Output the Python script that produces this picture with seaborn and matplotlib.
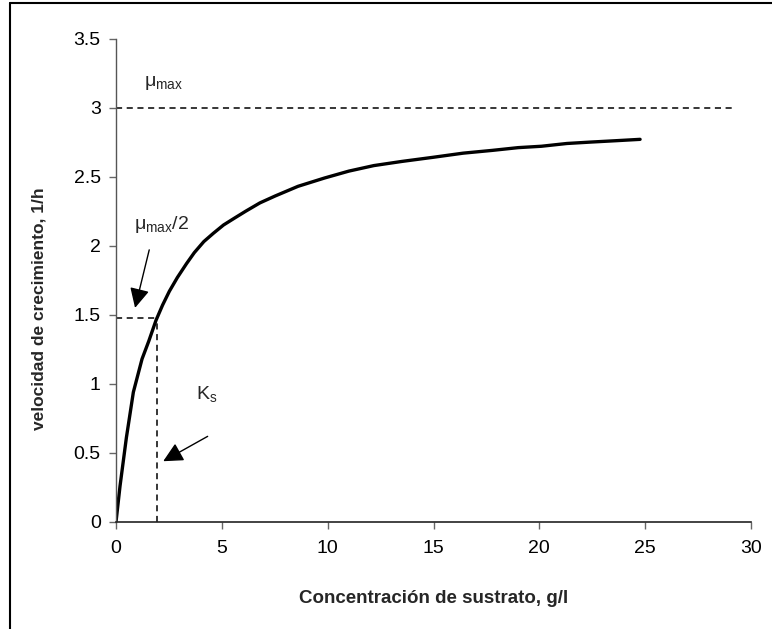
import matplotlib
matplotlib.use("Agg")
import matplotlib.pyplot as plt
from matplotlib.lines import Line2D
import seaborn as sns
import pandas as pd

# Data
substrate = [0, 0.19, 0.49, 0.82, 1.23, 1.55, 1.89, 2.2, 2.52, 2.9, 3.33, 3.7,
             4.15, 4.6, 5.08, 5.6, 6.13, 6.8, 7.52, 8.6, 9.85, 11.0, 12.18,
             13.5, 14.98, 16.4, 17.77, 19.0, 20.1, 21.3, 22.4, 23.6, 24.76]
growth = [0, 0.26, 0.61, 0.94, 1.18, 1.31, 1.46, 1.57, 1.67, 1.77, 1.87, 1.95,
          2.03, 2.09, 2.15, 2.2, 2.25, 2.31, 2.36, 2.43, 2.49, 2.54, 2.58,
          2.61, 2.64, 2.67, 2.69, 2.71, 2.72, 2.74, 2.75, 2.76, 2.77]
mu_max = 3.0
mu_half = 1.48
ks = 1.92
mu_max_line_end = 29.2
x_ticks = [0, 5, 10, 15, 20, 25, 30]
y_ticks = [0, 0.5, 1, 1.5, 2, 2.5, 3, 3.5]
y_tick_labels = ["0", "0.5", "1", "1.5", "2", "2.5", "3", "3.5"]

sns.set_theme(style="white")
plt.rcParams["font.family"] = ["Liberation Sans", "DejaVu Sans"]
plt.rcParams["mathtext.fontset"] = "custom"
plt.rcParams["mathtext.rm"] = "Liberation Sans"
plt.rcParams["mathtext.it"] = "Liberation Sans:italic"
plt.rcParams["mathtext.bf"] = "Liberation Sans:bold"

fig = plt.figure(figsize=(7.72, 6.29), dpi=100)
fig.patch.set_facecolor("white")
ax = fig.add_axes([116 / 772, 1 - 522 / 629, (751 - 116) / 772, (522 - 38.5) / 629])

df = pd.DataFrame({"S": substrate, "mu": growth})
sns.lineplot(data=df, x="S", y="mu", ax=ax, color="black", linewidth=2.4,
             estimator=None, sort=False)

dash = (0, (4, 3))
ax.plot([0, mu_max_line_end], [mu_max, mu_max], color="black", lw=1.1, linestyle=dash)
ax.plot([0, ks], [mu_half, mu_half], color="black", lw=1.1, linestyle=dash)
ax.plot([ks, ks], [0, mu_half], color="black", lw=1.1, linestyle=dash)

ax.set_xlim(0, 30)
ax.set_ylim(0, 3.5)
ax.set_xticks(x_ticks)
ax.set_xticklabels([str(t) for t in x_ticks])
ax.set_yticks(y_ticks)
ax.set_yticklabels(y_tick_labels)

for s in ["top", "right"]:
    ax.spines[s].set_visible(False)
ax.spines["left"].set_color("#555555")
ax.spines["bottom"].set_color("#222222")
ax.spines["left"].set_linewidth(1.0)
ax.spines["bottom"].set_linewidth(1.2)
ax.tick_params(axis="both", which="major", direction="out", length=5, width=1.0,
               color="#666666", labelsize=14, labelcolor="black",
               bottom=True, left=True)
ax.tick_params(axis="x", pad=8)
ax.tick_params(axis="y", pad=6)

ax.set_xlabel("Concentración de sustrato, g/l", fontsize=13.5, fontweight="bold")
ax.set_ylabel("velocidad de crecimiento, 1/h", fontsize=12.5, fontweight="bold")
ax.xaxis.set_label_coords(0.5, -0.141)
ax.yaxis.set_label_coords(-0.109, 0.442)

ax.text(1.3, 3.18, r"$\mathrm{μ_{max}}$", fontsize=14, ha="left", va="center")
ax.text(0.85, 2.15, r"$\mathrm{μ_{max}/2}$", fontsize=14, ha="left", va="center")
ax.text(3.8, 0.93, r"$\mathrm{K_s}$", fontsize=14, ha="left", va="center")

arrow_style = "-|>,head_length=0.6,head_width=0.3"
ax.annotate("", xy=(0.90, 1.55), xytext=(1.57, 1.97),
            arrowprops=dict(arrowstyle=arrow_style, color="black", lw=1.0,
                            mutation_scale=20, shrinkA=0, shrinkB=0))
ax.annotate("", xy=(2.23, 0.44), xytext=(4.33, 0.62),
            arrowprops=dict(arrowstyle=arrow_style, color="black", lw=1.0,
                            mutation_scale=20, shrinkA=0, shrinkB=0))

# Figure frame (top and left edges visible in the reference)
fig.add_artist(Line2D([9.5 / 772, 9.5 / 772], [0, 1 - 3.3 / 629], color="black",
                      lw=1.5, transform=fig.transFigure))
fig.add_artist(Line2D([9.5 / 772, 1], [1 - 3.3 / 629, 1 - 3.3 / 629], color="black",
                      lw=1.5, transform=fig.transFigure))

fig.savefig("out.png", dpi=100, facecolor="white")
